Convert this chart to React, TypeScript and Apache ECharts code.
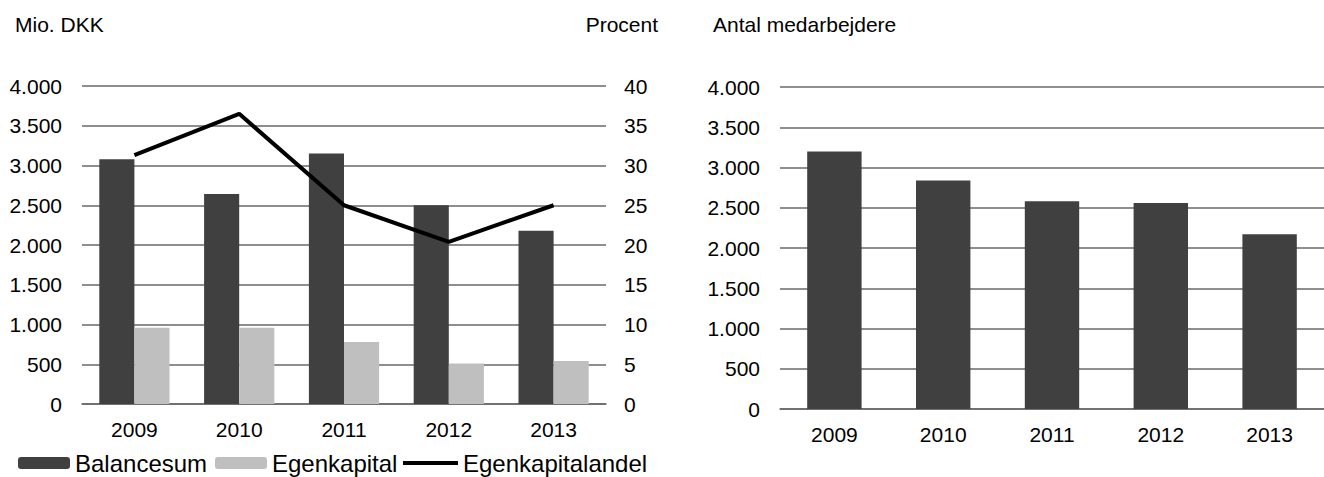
import React, { useEffect, useRef } from "react";
import * as echarts from "echarts";

const years = ["2009", "2010", "2011", "2012", "2013"];
const balancesum = [3080, 2640, 3150, 2500, 2180];
const egenkapital = [960, 960, 780, 510, 540];
const egenkapitalandel = [31.3, 36.5, 25.0, 20.4, 25.0];
const medarbejdere = [3200, 2840, 2580, 2560, 2170];

const FONT = "'Liberation Sans', Arial, sans-serif";
const DARK = "#404040";
const LIGHT = "#bfbfbf";
const GRID = "#686868";

export default function App() {
  const ref = useRef<HTMLDivElement>(null);
  useEffect(() => {
    if (!ref.current) return;
    const chart = echarts.init(ref.current, undefined, { renderer: "svg" });
    const axisLabel = { color: "#000", fontSize: 21, fontFamily: FONT };
    const splitLine = { show: true, lineStyle: { color: GRID, width: 1.5 } };
    const legendText = { color: "#000", fontSize: 24, fontFamily: FONT };
    const fmt = (v: number) => v.toLocaleString("da-DK").replace(/,/g, ".");
    chart.setOption({
      animation: false,
      backgroundColor: "#fff",
      textStyle: { fontFamily: FONT },
      title: [
        { text: "Mio. DKK", left: 15, top: 14, padding: 0, textStyle: { fontSize: 21, fontWeight: "normal", color: "#000", fontFamily: FONT } },
        { text: "Procent", right: 666, top: 14, padding: 0, textStyle: { fontSize: 21, fontWeight: "normal", color: "#000", fontFamily: FONT } },
        { text: "Antal medarbejdere", left: 713, top: 14, padding: 0, textStyle: { fontSize: 21, fontWeight: "normal", color: "#000", fontFamily: FONT } },
      ],
      legend: [
        { data: ["Balancesum"], left: 18, top: 451, padding: 0, itemWidth: 52, itemHeight: 12, textStyle: legendText, selectedMode: false },
        { data: ["Egenkapital"], left: 215, top: 451, padding: 0, itemWidth: 52, itemHeight: 12, textStyle: legendText, selectedMode: false },
        {
          data: [{ name: "Egenkapitalandel", icon: "rect" }], left: 403, top: 451, padding: 0,
          itemWidth: 55, itemHeight: 4, textStyle: legendText, selectedMode: false,
          itemStyle: { color: "#000" },
        },
      ],
      grid: [
        { left: 82, top: 86, width: 524, height: 318 },
        { left: 780, top: 87, width: 555, height: 322 },
      ],
      xAxis: [
        {
          type: "category", gridIndex: 0, data: years,
          axisTick: { show: false },
          axisLine: { show: true, lineStyle: { color: GRID, width: 1.5 } },
          axisLabel: { ...axisLabel, margin: 15 },
        },
        {
          type: "category", gridIndex: 1, data: years,
          axisTick: { show: false },
          axisLine: { show: true, lineStyle: { color: GRID, width: 1.5 } },
          axisLabel: { ...axisLabel, margin: 15 },
        },
      ],
      yAxis: [
        {
          type: "value", gridIndex: 0, min: 0, max: 4000, interval: 500,
          axisLine: { show: false }, axisTick: { show: false },
          axisLabel: { ...axisLabel, margin: 20, formatter: fmt },
          splitLine,
        },
        {
          type: "value", gridIndex: 0, min: 0, max: 40, interval: 5, position: "right",
          axisLine: { show: false }, axisTick: { show: false },
          axisLabel: { ...axisLabel, margin: 18 },
          splitLine: { show: false },
        },
        {
          type: "value", gridIndex: 1, min: 0, max: 4000, interval: 500,
          axisLine: { show: false }, axisTick: { show: false },
          axisLabel: { ...axisLabel, margin: 20, formatter: fmt },
          splitLine,
        },
      ],
      series: [
        {
          name: "Balancesum", type: "bar", xAxisIndex: 0, yAxisIndex: 0, data: balancesum,
          itemStyle: { color: DARK }, barGap: "0%", barCategoryGap: "33%",
        },
        {
          name: "Egenkapital", type: "bar", xAxisIndex: 0, yAxisIndex: 0, data: egenkapital,
          itemStyle: { color: LIGHT }, barGap: "0%", barCategoryGap: "33%",
        },
        {
          name: "Egenkapitalandel", type: "line", xAxisIndex: 0, yAxisIndex: 1, data: egenkapitalandel,
          symbol: "none", lineStyle: { color: "#000", width: 4 }, itemStyle: { color: "#000" },
        },
        {
          name: "Antal medarbejdere", type: "bar", xAxisIndex: 1, yAxisIndex: 2, data: medarbejdere,
          itemStyle: { color: DARK }, barCategoryGap: "50%",
        },
      ],
    });
    return () => chart.dispose();
  }, []);
  return (
    <div
      ref={ref}
      style={{ position: "absolute", left: 0, top: 0, width: 1324, height: 477, overflow: "hidden" }}
    />
  );
}
